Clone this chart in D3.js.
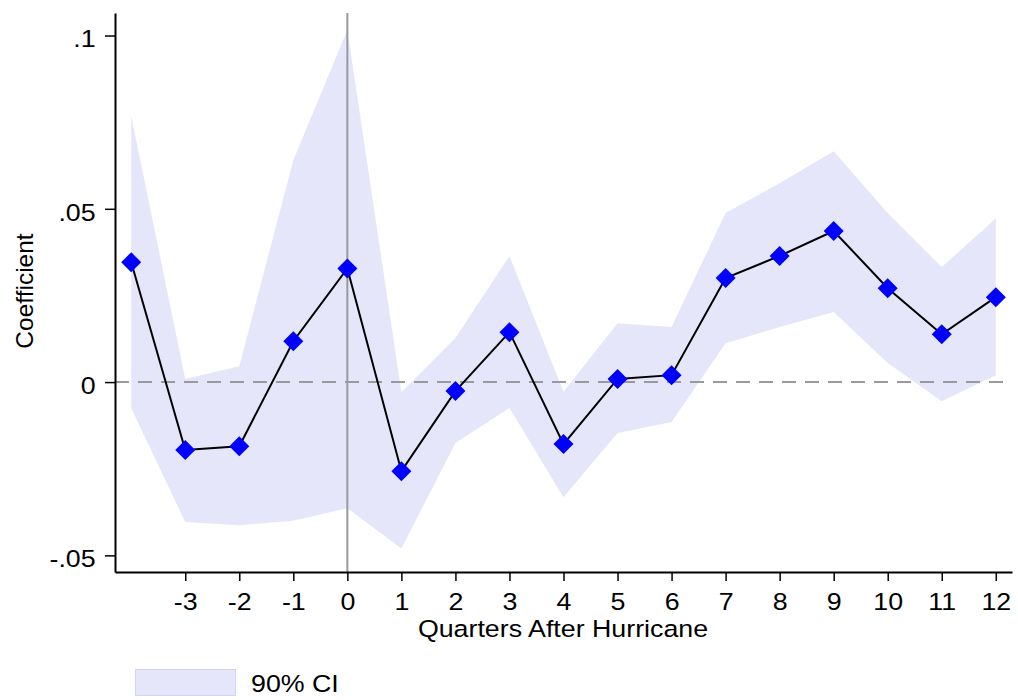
<!DOCTYPE html>
<html>
<head>
<meta charset="utf-8">
<script src="https://cdn.jsdelivr.net/npm/d3@7"></script>
<style>
  body { margin: 0; background: #fff; }
  text { font-family: "Liberation Sans", Arial, sans-serif; }
</style>
</head>
<body>
<svg width="1018" height="700"></svg>
<script>
// quarters relative to the hurricane
var quarters = [-4, -3, -2, -1, 0, 1, 2, 3, 4, 5, 6, 7, 8, 9, 10, 11, 12];
var coef  = [0.0346, -0.0196, -0.0185, 0.0118, 0.0328, -0.0257, -0.0026, 0.0144, -0.0179, 0.0009, 0.0020, 0.0300, 0.0364, 0.0436, 0.0271, 0.0138, 0.0245];
var ciHigh = [0.0768, 0.0009, 0.0046, 0.0640, 0.1016, -0.0029, 0.0127, 0.0364, -0.0028, 0.0170, 0.0159, 0.0488, 0.0574, 0.0666, 0.0488, 0.0332, 0.0472];
var ciLow  = [-0.0075, -0.0404, -0.0413, -0.0400, -0.0364, -0.0480, -0.0176, -0.0075, -0.0332, -0.0147, -0.0115, 0.0112, 0.0159, 0.0202, 0.0055, -0.0055, 0.0020];
var xTicks = [-3, -2, -1, 0, 1, 2, 3, 4, 5, 6, 7, 8, 9, 10, 11, 12];
var xTickLabels = ["-3", "-2", "-1", "0", "1", "2", "3", "4", "5", "6", "7", "8", "9", "10", "11", "12"];
var yTicks = [-0.05, 0, 0.05, 0.1];
var yTickLabels = ["-.05", "0", ".05", ".1"];

var svg = d3.select("svg");
var fontSize = "23.5px";
var stretch = "scale(1.14,1)";   // lettering in the original is wide

var x = d3.scaleLinear().domain([-4.3, 12.3]).range([115, 1012]);
var y = d3.scaleLinear().domain([-0.0548, 0.1065]).range([572, 13]);

// confidence band
var area = d3.area()
    .x(function (d, i) { return x(quarters[i]); })
    .y0(function (d, i) { return y(ciLow[i]); })
    .y1(function (d, i) { return y(ciHigh[i]); });

svg.append("path")
    .datum(coef)
    .attr("d", area)
    .attr("fill", "#e6e6fa");

// reference lines
svg.append("line")
    .attr("x1", x(0)).attr("x2", x(0))
    .attr("y1", y.range()[1]).attr("y2", y.range()[0])
    .attr("stroke", "#9a9a9e").attr("stroke-width", 2);

svg.append("line")
    .attr("x1", x.range()[0]).attr("x2", x.range()[1])
    .attr("y1", y(0)).attr("y2", y(0))
    .attr("stroke", "#9a9a9e").attr("stroke-width", 2)
    .attr("stroke-dasharray", "14,9");

// coefficient line
var line = d3.line()
    .x(function (d, i) { return x(quarters[i]); })
    .y(function (d) { return y(d); });

svg.append("path")
    .datum(coef)
    .attr("d", line)
    .attr("fill", "none")
    .attr("stroke", "#000")
    .attr("stroke-width", 2);

// diamond markers
svg.selectAll(".pt")
    .data(coef)
    .enter().append("path")
    .attr("class", "pt")
    .attr("d", "M0,-10L10,0L0,10L-10,0Z")
    .attr("transform", function (d, i) { return "translate(" + x(quarters[i]) + "," + y(d) + ")"; })
    .attr("fill", "#0000ff");

// axes
var xAxis = svg.append("g")
    .attr("transform", "translate(0," + y.range()[0] + ")")
    .call(d3.axisBottom(x).tickValues(xTicks).tickSize(9).tickPadding(12).tickSizeOuter(0)
        .tickFormat(function (d, i) { return xTickLabels[i]; }));

var yAxis = svg.append("g")
    .attr("transform", "translate(" + x.range()[0] + ",0)")
    .call(d3.axisLeft(y).tickValues(yTicks).tickSize(10).tickPadding(7).tickSizeOuter(0)
        .tickFormat(function (d, i) { return yTickLabels[i]; }));

[xAxis, yAxis].forEach(function (g) {
    g.select(".domain").attr("stroke", "#000").attr("stroke-width", 2);
    g.selectAll(".tick line").attr("stroke", "#000").attr("stroke-width", 1.5);
    g.selectAll(".tick text").attr("fill", "#000").attr("transform", stretch)
        .style("font-size", fontSize)
        .style("font-family", "'Liberation Sans', Arial, sans-serif");
});
yAxis.selectAll(".tick text").attr("dy", "0.48em");

// axis titles
svg.append("text")
    .attr("transform", "translate(563,637) " + stretch)
    .attr("text-anchor", "middle")
    .style("font-size", fontSize)
    .text("Quarters After Hurricane");

svg.append("text")
    .attr("transform", "translate(33,291) rotate(-90)")
    .attr("text-anchor", "middle")
    .style("font-size", "24.5px")
    .text("Coefficient");

// legend
svg.append("rect")
    .attr("x", 135.5).attr("y", 669.5)
    .attr("width", 100).attr("height", 26)
    .attr("fill", "#e6e6fa").attr("stroke", "#d4d4f2");

svg.append("text")
    .attr("transform", "translate(251,692) " + stretch)
    .style("font-size", fontSize)
    .text("90% CI");
</script>
</body>
</html>
